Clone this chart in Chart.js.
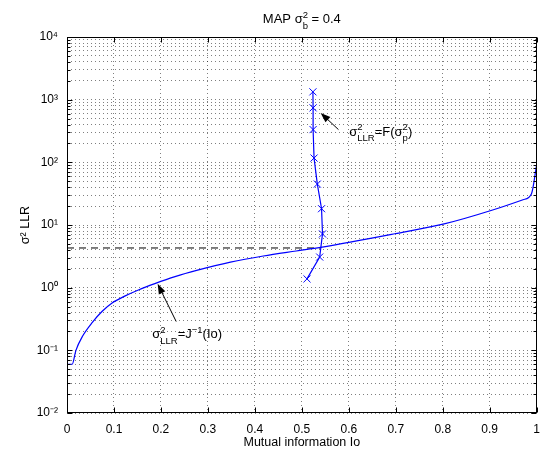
<!DOCTYPE html>
<html><head><meta charset="utf-8">
<script src="https://cdn.jsdelivr.net/npm/chart.js@4/dist/chart.umd.min.js"></script>
<style>html,body{margin:0;padding:0;background:#fff;}#wrap{width:549px;height:449px;}</style>
</head><body><div id="wrap"><canvas id="c" width="549" height="449"></canvas></div>
<script>
// ---- data ----
const jIo  = [0, 0.011, 0.019, 0.033, 0.054, 0.075, 0.096, 0.124, 0.152, 0.187, 0.23, 0.278, 0.348, 0.418, 0.488, 0.540, 0.698, 0.803, 0.908, 0.971, 0.989, 1.0];
const jVar = [0.060, 0.060, 0.10, 0.168, 0.28, 0.42, 0.57, 0.74, 0.92, 1.16, 1.5, 1.9, 2.55, 3.2, 3.85, 4.4, 7.25, 10.4, 17.5, 25.3, 31.6, 92];
const fIo  = [0.511, 0.538, 0.544, 0.542, 0.533, 0.526, 0.524, 0.524, 0.5236];
const fVar = [1.38, 3.08, 7.2, 18.2, 45, 117, 333, 740, 1333];
const refIo  = [0, 0.54];
const refVar = [4.3, 4.3];
const xTicks = [0, 0.1, 0.2, 0.3, 0.4, 0.5, 0.6, 0.7, 0.8, 0.9, 1];
const xTickLabels = ['0', '0.1', '0.2', '0.3', '0.4', '0.5', '0.6', '0.7', '0.8', '0.9', '1'];
const yMajorTicks = [0.01, 0.1, 1, 10, 100, 1000, 10000];
const yTickLabels = ['10\u207B\u00B2', '10\u207B\u00B9', '10\u2070', '10\u00B9', '10\u00B2', '10\u00B3', '10\u2074'];
const titleText = 'MAP \u03C3';
const xTitle = 'Mutual information Io';
const yTitle = '\u03C3\u00B2 LLR';
// annotations: arrow tail / tip and label anchor, in data units
const annFTail = [0.578, 333], annFTip = [0.540, 615], annFText = [0.601, 267];
const annJTail = [0.2325, 0.288], annJTip = [0.193, 1.15], annJText = [0.1815, 0.155];

const FONT = "'Liberation Sans', Arial, Helvetica, sans-serif";
const BIG = 13, SMALL = 9.5;

function drawRich(ctx, parts, x, y, center) {
  ctx.textBaseline = 'alphabetic';
  ctx.textAlign = 'left';
  let w = 0;
  for (const p of parts) {
    ctx.font = BIG + 'px ' + FONT; w += ctx.measureText(p.t).width;
    ctx.font = SMALL + 'px ' + FONT;
    w += Math.max(p.sup ? ctx.measureText(p.sup).width : 0, p.sub ? ctx.measureText(p.sub).width : 0);
  }
  if (center) x -= w / 2;
  for (const p of parts) {
    ctx.font = BIG + 'px ' + FONT;
    ctx.fillText(p.t, x, y); x += ctx.measureText(p.t).width;
    ctx.font = SMALL + 'px ' + FONT;
    let w1 = 0, w2 = 0;
    if (p.sup) { ctx.fillText(p.sup, x, y - 5.5); w1 = ctx.measureText(p.sup).width; }
    if (p.sub) { ctx.fillText(p.sub, x, y + 5.5); w2 = ctx.measureText(p.sub).width; }
    x += Math.max(w1, w2);
  }
}
function arrow(ctx, x1, y1, x2, y2) {
  const a = Math.atan2(y2 - y1, x2 - x1), L = 10, H = 3.6;
  ctx.strokeStyle = '#000'; ctx.fillStyle = '#000'; ctx.lineWidth = 1;
  ctx.beginPath(); ctx.moveTo(x1, y1); ctx.lineTo(x2 - L * 0.8 * Math.cos(a), y2 - L * 0.8 * Math.sin(a)); ctx.stroke();
  ctx.beginPath();
  ctx.moveTo(x2, y2);
  ctx.lineTo(x2 - L * Math.cos(a) + H * Math.sin(a), y2 - L * Math.sin(a) - H * Math.cos(a));
  ctx.lineTo(x2 - L * Math.cos(a) - H * Math.sin(a), y2 - L * Math.sin(a) + H * Math.cos(a));
  ctx.closePath(); ctx.fill();
}
function isMajor(v) { return yMajorTicks.some(m => Math.abs(Math.log10(v) - Math.log10(m)) < 1e-6); }

const decor = {
  id: 'decor',
  afterDraw(chart) {
    const {ctx, chartArea: a, scales: {x, y}} = chart;
    ctx.save();
    ctx.strokeStyle = '#000'; ctx.lineWidth = 1;
    const L = Math.round(a.left) + 0.5, R = Math.round(a.right) - 0.5, T = Math.round(a.top) + 0.5, B = Math.round(a.bottom) - 0.5;
    ctx.beginPath();
    for (const t of y.ticks) {
      const py = Math.round(y.getPixelForValue(t.value)) + 0.5;
      const len = isMajor(t.value) ? 5 : 3;
      ctx.moveTo(L, py); ctx.lineTo(L + len, py);
      ctx.moveTo(R, py); ctx.lineTo(R - len, py);
    }
    for (const t of x.ticks) {
      const px = Math.round(x.getPixelForValue(t.value)) + 0.5;
      ctx.moveTo(px, B); ctx.lineTo(px, B - 5);
      ctx.moveTo(px, T); ctx.lineTo(px, T + 5);
    }
    ctx.stroke();
    ctx.strokeRect(L, T, R - L, B - T);
    ctx.fillStyle = '#000';
    drawRich(ctx, [{t: titleText, sup: '2', sub: 'b'}, {t: ' = 0.4'}], (a.left + a.right) / 2, 23, true);
    drawRich(ctx, [{t: '\u03C3', sup: '2', sub: 'LLR'}, {t: '=F(\u03C3', sup: '2', sub: 'p'}, {t: ')'}],
      x.getPixelForValue(annFText[0]), y.getPixelForValue(annFText[1]), false);
    drawRich(ctx, [{t: '\u03C3', sup: '2', sub: 'LLR'}, {t: '=J', sup: '\u22121'}, {t: '(Io)'}],
      x.getPixelForValue(annJText[0]), y.getPixelForValue(annJText[1]), false);
    arrow(ctx, x.getPixelForValue(annFTail[0]), y.getPixelForValue(annFTail[1]), x.getPixelForValue(annFTip[0]), y.getPixelForValue(annFTip[1]));
    arrow(ctx, x.getPixelForValue(annJTail[0]), y.getPixelForValue(annJTail[1]), x.getPixelForValue(annJTip[0]), y.getPixelForValue(annJTip[1]));
    ctx.restore();
  }
};

const gridCommon = {color: 'rgba(0,0,0,0.5)', lineWidth: 1, drawTicks: false, drawOnChartArea: true};

new Chart(document.getElementById('c'), {
  type: 'line',
  data: {
    datasets: [
      {label: 'J^-1(Io)', data: jIo.map((v, i) => ({x: v, y: jVar[i]})), borderColor: '#0000ff', borderWidth: 1.2,
       pointRadius: 0, cubicInterpolationMode: 'monotone', fill: false},
      {label: 'F', data: fIo.map((v, i) => ({x: v, y: fVar[i]})), borderColor: '#0000ff', borderWidth: 1.2,
       pointStyle: 'crossRot', pointRadius: 5, pointBorderColor: '#0000ff', pointBorderWidth: 1, tension: 0, fill: false},
      {label: 'ref', data: refIo.map((v, i) => ({x: v, y: refVar[i]})), borderColor: '#000', borderWidth: 1,
       borderDash: [7, 5], pointRadius: 0, fill: false}
    ]
  },
  options: {
    responsive: false, animation: false, devicePixelRatio: 1,
    layout: {padding: {top: 37, right: 5, left: 0, bottom: 0}},
    plugins: {legend: {display: false}, tooltip: {enabled: false}, title: {display: false}},
    scales: {
      x: {
        type: 'linear', min: 0, max: 1,
        afterBuildTicks: s => { s.ticks = xTicks.map(v => ({value: v})); },
        afterFit: s => { s.height = 36; },
        ticks: {autoSkip: false, maxRotation: 0, minRotation: 0, padding: 9, color: '#000',
                font: {family: FONT, size: 12}, callback: (v, i) => xTickLabels[i]},
        grid: gridCommon, border: {display: false, dash: [1, 3]},
        title: {display: true, text: xTitle, color: '#000', font: {family: FONT, size: 12.5, lineHeight: 1}, padding: 0}
      },
      y: {
        type: 'logarithmic', min: 0.01, max: 10000,
        afterBuildTicks: s => {
          const t = [];
          for (let i = 0; i < yMajorTicks.length; i++) {
            t.push({value: yMajorTicks[i]});
            if (i < yMajorTicks.length - 1) for (let m = 2; m <= 9; m++) t.push({value: m * yMajorTicks[i]});
          }
          s.ticks = t;
        },
        afterFit: s => { s.width = 67; },
        ticks: {autoSkip: false, padding: 9, color: '#000', font: {family: FONT, size: 12},
                callback: (v) => { const k = yMajorTicks.findIndex(m => Math.abs(Math.log10(v) - Math.log10(m)) < 1e-6); return k >= 0 ? yTickLabels[k] : ''; }},
        grid: gridCommon, border: {display: false, dash: [1, 3]},
        title: {display: true, text: yTitle, color: '#000', font: {family: FONT, size: 12.5}, padding: {top: 18, bottom: 0}}
      }
    }
  },
  plugins: [decor]
});
</script></body></html>
